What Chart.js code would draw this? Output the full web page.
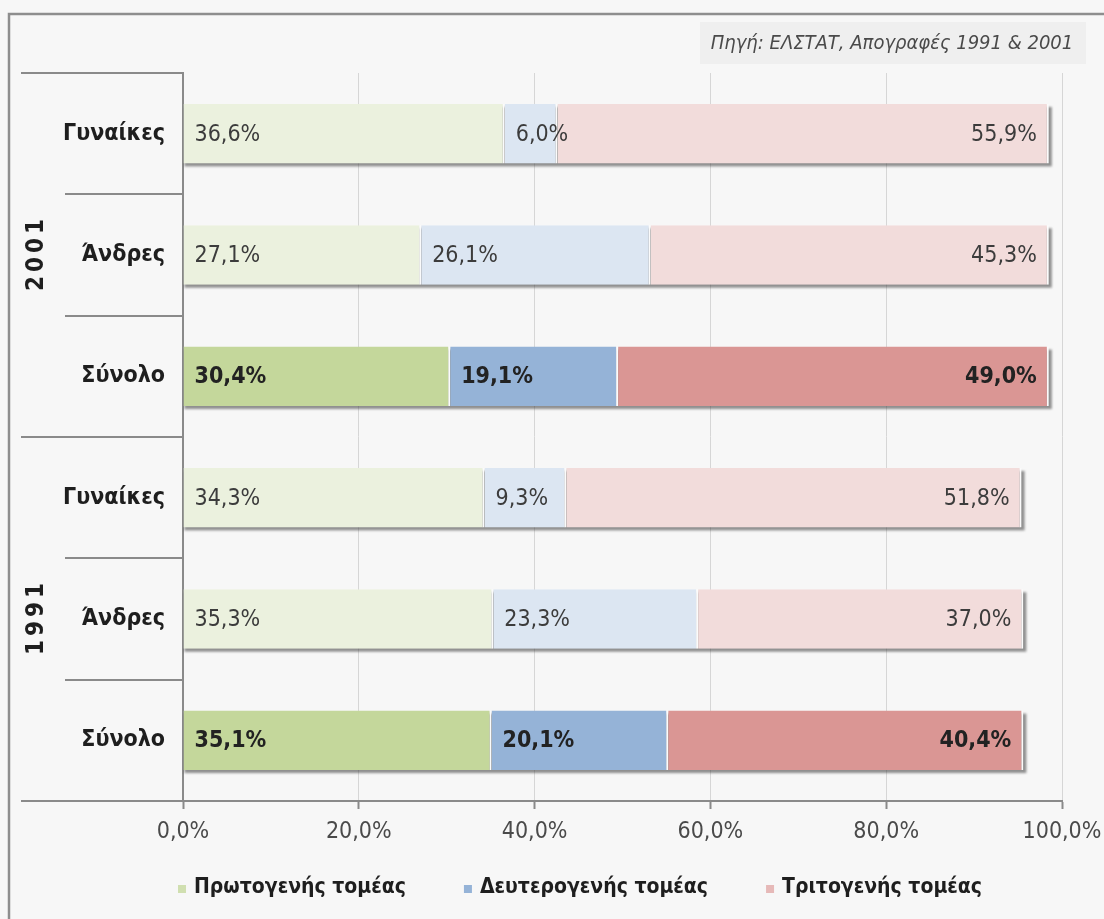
<!DOCTYPE html>
<html>
<head>
<meta charset="utf-8">
<script src="https://cdn.jsdelivr.net/npm/chart.js@4.4.0/dist/chart.umd.min.js"></script>
<style>
    html, body { margin: 0; padding: 0; background: #f7f7f7; }
    #wrap { width: 1104px; height: 919px; position: relative; }
</style>
</head>
<body>
<div id="wrap"><canvas id="sectors-chart"></canvas></div>
<script>
// data (percent of employed, by sector)
var years = ['2001', '1991'];
var categories = ['Γυναίκες', 'Άνδρες', 'Σύνολο', 'Γυναίκες', 'Άνδρες', 'Σύνολο'];
var primary = [36.6, 27.1, 30.4, 34.3, 35.3, 35.1];
var secondary = [6.0, 26.1, 19.1, 9.3, 23.3, 20.1];
var tertiary = [55.9, 45.3, 49.0, 51.8, 37.0, 40.4];
var seriesNames = ['Πρωτογενής τομέας', 'Δευτερογενής τομέας', 'Τριτογενής τομέας'];
var xTicks = [0, 20, 40, 60, 80, 100];
var sourceNote = 'Πηγή: ΕΛΣΤΑΤ, Απογραφές 1991 & 2001';

var FONT = '"DejaVu Sans Condensed", "Liberation Sans Narrow", "DejaVu Sans", sans-serif';

var strongColors = ['#c4d79b', '#95b3d7', '#da9694'];
var paleColors = ['#ebf1de', '#dce6f2', '#f2dcdb'];
var legendColors = ['#d0dfb0', '#95b3d7', '#e6b9b8'];

function isTotal(i) {
    return categories[i] === 'Σύνολο';
}

function segColor(k) {
    return function(c) {
        return isTotal(c.dataIndex) ? strongColors[k] : paleColors[k];
    };
}

function pct(v) {
    return v.toFixed(1).replace('.', ',') + '%';
}

// background, outer frame, the source note, category separators, years, legend
var framePlugin = {
    id: 'frame',
    beforeDraw: function(chart) {
        var ctx = chart.ctx;
        ctx.save();
        ctx.fillStyle = '#f7f7f7';
        ctx.fillRect(0, 0, chart.width, chart.height);
        ctx.strokeStyle = '#8e8e8e';
        ctx.lineWidth = 2.5;
        ctx.strokeRect(9, 14, chart.width + 20, chart.height + 20);
        ctx.fillStyle = '#efefef';
        ctx.fillRect(700, 22, 386, 42);
        ctx.font = 'italic 20px ' + FONT;
        ctx.fillStyle = '#4a4a4a';
        ctx.textAlign = 'center';
        ctx.textBaseline = 'middle';
        ctx.fillText(sourceNote, 892, 44);
        ctx.restore();
    },
    afterDraw: function(chart) {
        var ctx = chart.ctx;
        var ys = chart.scales.y;
        var left = chart.chartArea.left;
        ctx.save();
        ctx.strokeStyle = '#8a8a8a';
        ctx.lineWidth = 2;
        for (var i = 0; i <= categories.length; i++) {
            var y = Math.round(ys.getPixelForValue(i - 0.5));
            var x0 = (i % 3 === 0) ? 21 : 65;
            ctx.beginPath();
            ctx.moveTo(x0, y);
            ctx.lineTo(left, y);
            ctx.stroke();
        }
        // year labels, rotated and a bit spaced out
        ctx.font = 'bold 24px ' + FONT;
        ctx.letterSpacing = '4px';
        ctx.fillStyle = '#1e1e1e';
        ctx.textAlign = 'center';
        ctx.textBaseline = 'middle';
        for (var g = 0; g < years.length; g++) {
            var yc = (ys.getPixelForValue(g * 3 - 0.5) + ys.getPixelForValue(g * 3 + 2.5)) / 2;
            ctx.save();
            ctx.translate(37, yc);
            ctx.rotate(-Math.PI / 2);
            ctx.fillText(years[g], 2, 0);
            ctx.restore();
        }
        ctx.letterSpacing = '0px';

        // legend: small square markers, bold text, wide gaps
        ctx.font = 'bold 21px ' + FONT;
        ctx.textAlign = 'left';
        var box = 8, gapText = 8, gapItem = 58, legendY = 888;
        var widths = seriesNames.map(function(n) { return box + gapText + ctx.measureText(n).width; });
        var total = widths.reduce(function(a, b) { return a + b; }, 0) + gapItem * (seriesNames.length - 1);
        var x = 580 - total / 2;
        seriesNames.forEach(function(n, k) {
            ctx.fillStyle = legendColors[k];
            ctx.fillRect(x, legendY - 3, box, box);
            ctx.fillStyle = '#1e1e1e';
            ctx.fillText(n, x + box + gapText, legendY);
            x += widths[k] + gapItem;
        });
        ctx.restore();
    }
};

// drop shadow under each whole bar, then value labels on top
var barLabelPlugin = {
    id: 'barLabels',
    beforeDatasetsDraw: function(chart) {
        var ctx = chart.ctx;
        var first = chart.getDatasetMeta(0).data;
        var last = chart.getDatasetMeta(chart.data.datasets.length - 1).data;
        ctx.save();
        ctx.fillStyle = 'rgba(60,60,60,0.55)';
        ctx.filter = 'blur(1px)';
        first.forEach(function(bar, i) {
            var x0 = bar.base;
            var x1 = last[i].x;
            var top = bar.y - bar.height / 2;
            ctx.fillRect(x0 + 1, top + 3, x1 - x0 + 2, bar.height);
        });
        ctx.restore();
    },
    afterDatasetsDraw: function(chart) {
        var ctx = chart.ctx;
        ctx.save();
        ctx.textBaseline = 'middle';
        chart.data.datasets.forEach(function(ds, k) {
            var meta = chart.getDatasetMeta(k);
            meta.data.forEach(function(bar, i) {
                var bold = isTotal(i);
                ctx.font = (bold ? 'bold ' : '') + '23px ' + FONT;
                ctx.fillStyle = bold ? '#222222' : '#3c3c3c';
                var txt = pct(ds.data[i]);
                if (k < 2) {
                    ctx.textAlign = 'left';
                    ctx.fillText(txt, Math.min(bar.x, bar.base) + 11, bar.y + 1);
                } else {
                    ctx.textAlign = 'right';
                    ctx.fillText(txt, Math.max(bar.x, bar.base) - 12, bar.y + 1);
                }
            });
        });
        ctx.restore();
    }
};

function makeDataset(k, values) {
    return {
        label: seriesNames[k],
        data: values,
        backgroundColor: segColor(k),
        borderColor: '#fbfbfb',
        borderWidth: { left: 0, right: 2, top: 0, bottom: 0 },
        borderSkipped: false,
        barPercentage: 0.49,
        categoryPercentage: 1.0
    };
}

function initializeChart() {
    var ctx = document.getElementById('sectors-chart');

    new Chart(ctx, {
        type: 'bar',
        data: {
            labels: categories,
            datasets: [
                makeDataset(0, primary),
                makeDataset(1, secondary),
                makeDataset(2, tertiary)
            ]
        },
        plugins: [framePlugin, barLabelPlugin],
        options: {
            indexAxis: 'y',
            responsive: true,
            maintainAspectRatio: false,
            animation: false,
            layout: {
                padding: { left: 0, right: 42, top: 73, bottom: 0 }
            },
            scales: {
                x: {
                    stacked: true,
                    min: 0,
                    max: 100,
                    afterBuildTicks: function(scale) {
                        scale.ticks = xTicks.map(function(v) { return { value: v }; });
                    },
                    afterFit: function(scale) {
                        scale.height = 118;
                        scale.paddingLeft = 0;
                        scale.paddingRight = 0;
                    },
                    grid: {
                        color: '#d6d6d6',
                        lineWidth: 1,
                        tickColor: '#8a8a8a',
                        tickLength: 8,
                        tickWidth: 2
                    },
                    border: { color: '#8a8a8a', width: 2 },
                    ticks: {
                        padding: 9,
                        color: '#4a4a4a',
                        font: { family: FONT, size: 23 },
                        callback: function(v) { return pct(v); }
                    }
                },
                y: {
                    stacked: true,
                    afterFit: function(scale) { scale.width = 183; },
                    grid: { display: false, drawTicks: false },
                    border: { color: '#8a8a8a', width: 2 },
                    ticks: {
                        padding: 18,
                        color: '#1e1e1e',
                        font: { family: FONT, size: 23, weight: 'bold' }
                    }
                }
            },
            plugins: {
                legend: { display: false },
                tooltip: { enabled: false }
            }
        }
    });
}

document.addEventListener('DOMContentLoaded', function() {
    initializeChart();
});
</script>
</body>
</html>
